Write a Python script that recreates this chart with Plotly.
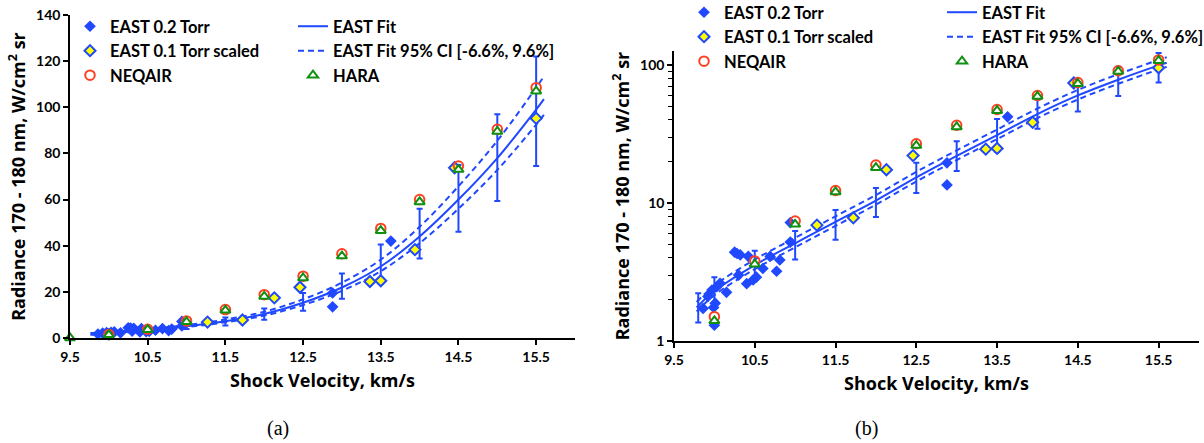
import plotly.graph_objects as go

# ---- data (shock velocity in km/s, radiance in W/cm^2 sr) ----
east02_v = [9.86, 9.92, 9.97, 9.99, 10.0, 10.01, 10.03, 10.07, 10.15, 10.25, 10.28,
            10.32, 10.30, 10.40, 10.42, 10.48, 10.52, 10.60, 10.69, 10.77, 10.81,
            10.94, 10.94, 12.88, 12.88, 13.63]
east02_r = [1.72, 2.1, 2.34, 1.75, 1.3, 1.88, 2.47, 2.62, 2.25, 4.4, 4.3,
            4.2, 3.0, 2.6, 4.1, 2.77, 2.9, 3.35, 4.1, 3.2, 3.86,
            5.2, 7.2, 19.5, 13.5, 42.0]

east01_v = [11.27, 11.72, 12.13, 12.46, 13.36, 13.50, 13.94, 14.45, 15.50]
east01_r = [6.9, 7.8, 17.4, 22.0, 24.5, 24.8, 38.3, 73.8, 95.2]

neqair_v = [10.0, 10.5, 11.0, 11.5, 12.0, 12.5, 13.0, 13.5, 14.0, 14.5, 15.0, 15.5]
neqair_r = [1.5, 3.8, 7.4, 12.3, 18.8, 26.8, 36.5, 47.5, 60.0, 74.5, 90.5, 108.5]

hara_v = [9.5, 10.0, 10.5, 11.0, 11.5, 12.0, 12.5, 13.0, 13.5, 14.0, 14.5, 15.0, 15.5]
hara_r = [0.05, 1.4, 3.6, 7.0, 12.0, 18.0, 26.0, 35.5, 46.5, 59.0, 73.0, 89.5, 107.0]

fit_v = [9.78, 10.0, 10.5, 11.0, 11.5, 12.0, 12.5, 13.0, 13.5, 14.0, 14.5, 15.0, 15.5, 15.6]
fit_r = [1.75, 2.3, 3.55, 5.1, 7.3, 10.4, 15.3, 21.9, 31.0, 44.0, 60.0, 78.0, 99.0, 103.5]

# confidence band stated in the legend: [-6.6%, 9.6%]
ci_lo_pct = -6.6
ci_hi_pct = 9.6

bar_v = [9.8, 10.0, 10.5, 11.0, 11.5, 12.0, 12.5, 13.0, 13.5, 14.0, 14.5, 15.0, 15.5]
bar_lo = [1.36, 1.78, 2.75, 3.9, 5.4, 7.9, 11.8, 17.0, 23.5, 34.5, 46.0, 59.4, 74.6]
bar_hi = [2.22, 2.9, 4.5, 6.25, 8.9, 12.8, 19.5, 28.0, 40.5, 56.0, 75.0, 97.0, 122.0]

x_ticks = [9.5, 10.5, 11.5, 12.5, 13.5, 14.5, 15.5]
lin_ticks = [0, 20, 40, 60, 80, 100, 120, 140]
log_ticks = [1, 10, 100]
log_minor = [2, 3, 4, 5, 6, 7, 8, 9, 20, 30, 40, 50, 60, 70, 80, 90]

BLUE = "#1f48ff"
RED = "#ff4020"
GREEN = "#109010"
FONT = "Lato"
TITLE_FONT = "Open Sans"

ci_up = [r * (1 + ci_hi_pct / 100) for r in fit_r]
ci_dn = [r * (1 + ci_lo_pct / 100) for r in fit_r]
bar_mid = [(a + b) / 2 for a, b in zip(bar_lo, bar_hi)]
bar_plus = [b - m for b, m in zip(bar_hi, bar_mid)]
bar_minus = [m - a for a, m in zip(bar_lo, bar_mid)]

fig = go.Figure()


def add_panel(xa, ya, leg_a, leg_b, clip):
    common = dict(xaxis=xa, yaxis=ya, cliponaxis=clip)
    fig.add_trace(go.Scatter(x=fit_v, y=fit_r, mode="lines", name="EAST Fit",
                             line=dict(color=BLUE, width=2, shape="spline"),
                             legend=leg_b, legendgroup=leg_b + "fit", legendrank=1,
                             **common))
    fig.add_trace(go.Scatter(x=fit_v, y=ci_up, mode="lines",
                             name="EAST Fit 95% CI [-6.6%, 9.6%]",
                             line=dict(color=BLUE, width=2, dash="6px,4px", shape="spline"),
                             legend=leg_b, legendgroup=leg_b + "ci", legendrank=2,
                             **common))
    fig.add_trace(go.Scatter(x=fit_v, y=ci_dn, mode="lines", showlegend=False,
                             line=dict(color=BLUE, width=2, dash="6px,4px", shape="spline"),
                             legend=leg_b, legendgroup=leg_b + "ci", **common))
    fig.add_trace(go.Scatter(x=bar_v, y=bar_mid, mode="markers", showlegend=False,
                             marker=dict(size=1, opacity=0),
                             error_y=dict(type="data", symmetric=False, array=bar_plus,
                                          arrayminus=bar_minus, color=BLUE,
                                          thickness=2, width=3),
                             **common))
    fig.add_trace(go.Scatter(x=east02_v, y=east02_r, mode="markers", name="EAST 0.2 Torr",
                             marker=dict(symbol="diamond", size=9, color=BLUE),
                             legend=leg_a, legendgroup=leg_a + "e2", legendrank=1,
                             **common))
    fig.add_trace(go.Scatter(x=east01_v, y=east01_r, mode="markers",
                             name="EAST 0.1 Torr scaled",
                             marker=dict(symbol="diamond", size=8.5, color="#ffff00",
                                         line=dict(color=BLUE, width=2)),
                             legend=leg_a, legendgroup=leg_a + "e1", legendrank=2,
                             **common))
    fig.add_trace(go.Scatter(x=neqair_v, y=neqair_r, mode="markers", name="NEQAIR",
                             marker=dict(symbol="circle-open", size=9.5, color=RED,
                                         line=dict(color=RED, width=2)),
                             legend=leg_a, legendgroup=leg_a + "nq", legendrank=3,
                             **common))
    fig.add_trace(go.Scatter(x=hara_v, y=hara_r, mode="markers", name="HARA",
                             marker=dict(symbol="triangle-up", size=9, color="white",
                                         line=dict(color=GREEN, width=2)),
                             legend=leg_b, legendgroup=leg_b + "ha", legendrank=3,
                             **common))


add_panel("x", "y", "legend", "legend2", False)
add_panel("x2", "y2", "legend3", "legend4", True)

W, H = 1204, 443
tick_font = dict(family=FONT, size=14, color="black", weight="bold")
title_font = dict(family=TITLE_FONT, size=18, color="black", weight="bold")
y_title = "Radiance 170 - 180 nm, W/cm<sup>2</sup> sr"

axis_style = dict(showgrid=False, zeroline=False, showline=True, linecolor="black",
                  linewidth=1.5, ticks="outside", ticklen=5, tickwidth=1.5,
                  tickcolor="black", tickfont=tick_font, automargin=False)

xaxis_common = dict(range=[9.5, 16.0], tickmode="array", tickvals=x_ticks,
                    ticktext=[f"{t:.1f}" for t in x_ticks],
                    title=dict(text="Shock Velocity, km/s", font=title_font, standoff=11),
                    **axis_style)

legend_common = dict(font=dict(family=FONT, size=16.5, color="black", weight="bold"),
                     bgcolor="rgba(0,0,0,0)", borderwidth=0, tracegroupgap=12,
                     xanchor="left", yanchor="top", itemwidth=30, traceorder="normal")

fig.update_layout(
    width=W, height=H, margin=dict(l=0, r=0, t=0, b=0, autoexpand=False),
    paper_bgcolor="white", plot_bgcolor="white",
    showlegend=True,
    xaxis=dict(domain=[70 / W, 575 / W], anchor="y", **xaxis_common),
    yaxis=dict(domain=[(H - 338) / H, (H - 15) / H], anchor="x", range=[0, 140],
               tickmode="array", tickvals=lin_ticks,
               title=dict(text=y_title, font=title_font, standoff=6), **axis_style),
    xaxis2=dict(domain=[674 / W, 1199 / W], anchor="y2", **xaxis_common),
    yaxis2=dict(domain=[(H - 341) / H, (H - 51) / H], anchor="x2", type="log",
                range=[0, 2.1], tickmode="array", tickvals=log_ticks,
                ticktext=[str(t) for t in log_ticks],
                minor=dict(tickmode="array", tickvals=log_minor, ticks="outside",
                           ticklen=4, tickwidth=1, tickcolor="black", showgrid=False),
                title=dict(text=y_title, font=title_font, standoff=6), **axis_style),
    legend=dict(x=70 / W, y=1 - 9 / H, **legend_common),
    legend2=dict(x=293 / W, y=1 - 9 / H, **legend_common),
    legend3=dict(x=684 / W, y=1 + 5 / H, **legend_common),
    legend4=dict(x=942 / W, y=1 + 5 / H, **legend_common),
    annotations=[
        dict(text="(a)", x=278 / W, y=(H - 428) / H, xref="paper", yref="paper",
             showarrow=False, xanchor="center", yanchor="middle",
             font=dict(family="Liberation Serif", size=20, color="black")),
        dict(text="(b)", x=866 / W, y=(H - 428) / H, xref="paper", yref="paper",
             showarrow=False, xanchor="center", yanchor="middle",
             font=dict(family="Liberation Serif", size=20, color="black")),
    ],
)

fig.write_html("out.html")
